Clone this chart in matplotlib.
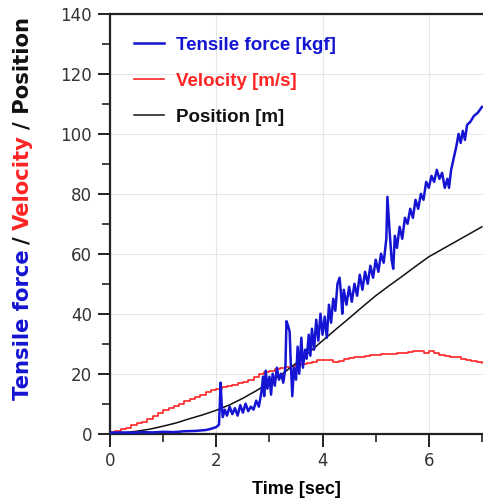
import matplotlib
matplotlib.use("Agg")
import matplotlib.pyplot as plt
from matplotlib.ticker import MultipleLocator

BLUE = "#1414d2"
RED = "#ff2424"
BLACK = "#111111"

# tensile force [kgf]
force_t = [0.0, 0.2, 0.4, 0.6, 0.8, 1.0, 1.2, 1.4, 1.6, 1.8, 1.9, 2.0, 2.05,
           2.08, 2.10, 2.12, 2.16, 2.2, 2.25, 2.3, 2.35, 2.4, 2.45, 2.5, 2.55,
           2.6, 2.65, 2.7, 2.75, 2.8, 2.85, 2.88, 2.9, 2.93, 2.96, 3.0, 3.03,
           3.06, 3.1, 3.14, 3.18, 3.22, 3.26, 3.3, 3.32, 3.35, 3.38, 3.4, 3.43,
           3.46, 3.5, 3.53, 3.56, 3.6, 3.63, 3.67, 3.7, 3.74, 3.77, 3.8, 3.84,
           3.88, 3.92, 3.96, 4.0, 4.04, 4.08, 4.12, 4.16, 4.2, 4.24, 4.28, 4.32,
           4.35, 4.37, 4.4, 4.45, 4.5, 4.55, 4.6, 4.65, 4.7, 4.75, 4.8, 4.85,
           4.9, 4.95, 5.0, 5.05, 5.1, 5.15, 5.2, 5.22, 5.26, 5.3, 5.33, 5.36,
           5.4, 5.45, 5.5, 5.55, 5.6, 5.65, 5.7, 5.75, 5.8, 5.85, 5.9, 5.95,
           6.0, 6.05, 6.1, 6.15, 6.2, 6.25, 6.3, 6.35, 6.38, 6.42, 6.47, 6.52,
           6.56, 6.6, 6.64, 6.68, 6.72, 6.78, 6.85, 6.92, 7.0]
force_v = [0.3, 0.4, 0.3, 0.5, 0.4, 0.6, 0.5, 0.8, 0.9, 1.2, 1.6, 2.2, 3.0,
           17.0, 10.0, 5.5, 8.0, 6.0, 9.0, 6.5, 8.5, 6.0, 9.5, 7.0, 10.0,
           7.5, 9.0, 8.0, 11.0, 9.0, 14.0, 19.0, 12.5, 21.0, 15.0, 19.0, 13.0,
           20.0, 16.0, 22.0, 18.0, 20.0, 17.0, 22.0, 37.5, 36.0, 34.0, 24.0, 12.5,
           22.0, 18.0, 29.0, 20.0, 32.0, 22.0, 28.0, 25.0, 33.0, 26.0, 35.0, 28.0,
           38.0, 31.0, 40.0, 33.0, 39.0, 32.0, 43.0, 37.0, 45.0, 41.0, 50.0, 52.0,
           46.0, 40.0, 48.0, 43.0, 49.0, 44.0, 50.0, 46.0, 53.0, 48.0, 54.0, 50.0,
           56.0, 52.0, 58.0, 54.0, 60.0, 57.0, 65.0, 79.0, 68.0, 58.0, 55.0, 66.0,
           62.0, 69.0, 65.0, 72.0, 70.0, 75.0, 72.0, 78.0, 75.0, 80.0, 78.0, 84.0,
           82.0, 86.0, 84.0, 88.0, 85.0, 87.0, 82.0, 85.0, 82.0, 88.0, 92.0, 96.0,
           100.0, 97.0, 101.0, 98.0, 103.0, 104.0, 106.0, 107.0, 109.0]

# velocity [m/s], stepped trace sampled every 0.1 s
vel_t = [i / 10 for i in range(71)]
vel_v = [0.5, 1.0, 1.5, 2.0, 2.8, 3.5, 4.0, 5.0, 5.8, 6.8,
         7.8, 8.5, 9.2, 10.0, 10.8, 11.5, 12.2, 13.0, 13.8, 14.5,
         15.0, 15.5, 16.0, 16.3, 16.8, 17.3, 18.0, 19.0, 19.8, 20.5,
         21.0, 21.5, 22.0, 22.3, 22.5, 23.0, 23.2, 23.5, 23.8, 24.6,
         24.6, 24.6, 24.0, 24.3, 25.0, 25.2, 25.4, 25.6, 25.8, 26.2,
         26.2, 26.4, 26.6, 26.6, 26.8, 26.8, 27.2, 27.4, 27.4, 27.0,
         27.4, 26.8, 26.2, 26.0, 25.6, 25.4, 25.0, 24.6, 24.2, 23.8,
         23.6]

# position [m]
pos_t = [0.0, 0.25, 0.5, 0.75, 1.0, 1.25, 1.5, 1.75, 2.0, 2.25, 2.5, 2.75,
         3.0, 3.25, 3.5, 3.75, 4.0, 4.25, 4.5, 4.75, 5.0, 5.25, 5.5, 5.75,
         6.0, 6.25, 6.5, 6.75, 7.0]
pos_v = [0.0, 0.3, 0.8, 1.5, 2.5, 3.6, 5.0, 6.3, 7.8, 9.6, 11.8, 14.3,
         17.0, 20.0, 23.5, 27.2, 31.0, 34.8, 38.5, 42.3, 46.0, 49.3, 52.5, 55.8,
         59.0, 61.5, 64.0, 66.5, 69.0]

plt.rcParams["font.family"] = ["Liberation Sans", "DejaVu Sans"]

fig = plt.figure(figsize=(4.83, 4.99), dpi=100)
ax = fig.add_axes([0.228, 0.131, 0.772, 0.841])

ax.plot(force_t, force_v, color=BLUE, lw=1.8, label="Tensile force [kgf]", zorder=3)
ax.step(vel_t, vel_v, where="post", color=RED, lw=1.2, label="Velocity [m/s]", zorder=2)
ax.plot(pos_t, pos_v, color=BLACK, lw=1.1, label="Position [m]", zorder=2)

ax.set_xlim(0, 7.02)
ax.set_ylim(0, 140)
ax.xaxis.set_major_locator(MultipleLocator(2))
ax.xaxis.set_minor_locator(MultipleLocator(1))
ax.yaxis.set_major_locator(MultipleLocator(20))
ax.yaxis.set_minor_locator(MultipleLocator(10))
ax.tick_params(which="major", direction="out", length=9, width=1.4, colors="#222",
               labelsize=12, labelcolor="#333", pad=4)
ax.tick_params(which="minor", direction="out", length=6, width=1.2, colors="#222")
for lab in ax.get_xticklabels() + ax.get_yticklabels():
    lab.set_family("DejaVu Sans")
ax.grid(True, which="major", color="#e6e6e6", lw=0.8)
ax.set_axisbelow(True)
ax.spines["right"].set_visible(False)
for s in ("left", "top", "bottom"):
    ax.spines[s].set_linewidth(1.6)
    ax.spines[s].set_color("#222")

ax.set_xlabel("Time [sec]", fontsize=13, fontweight="bold", labelpad=8)

leg = ax.legend(loc="upper left", bbox_to_anchor=(0.038, 0.968), frameon=False,
                prop={"weight": "bold", "size": 13.5}, labelcolor="linecolor",
                handlelength=1.6, handletextpad=0.64, labelspacing=1.0, borderpad=0)

# multi-coloured y label, stacked from the bottom up
pieces = [("Tensile force", BLUE), ("/", BLACK), ("Velocity", RED), ("/ Position", BLACK)]
fig.canvas.draw()
renderer = fig.canvas.get_renderer()
y = 0.198
gap = 6 / 499
for txt, col in pieces:
    t = fig.text(0.047, y, txt, rotation=90, color=col, fontsize=15.2,
                 fontweight="bold", family="DejaVu Sans", ha="center", va="bottom")
    bb = t.get_window_extent(renderer)
    y += bb.height / fig.bbox.height + gap

fig.savefig("out.png", dpi=100)
